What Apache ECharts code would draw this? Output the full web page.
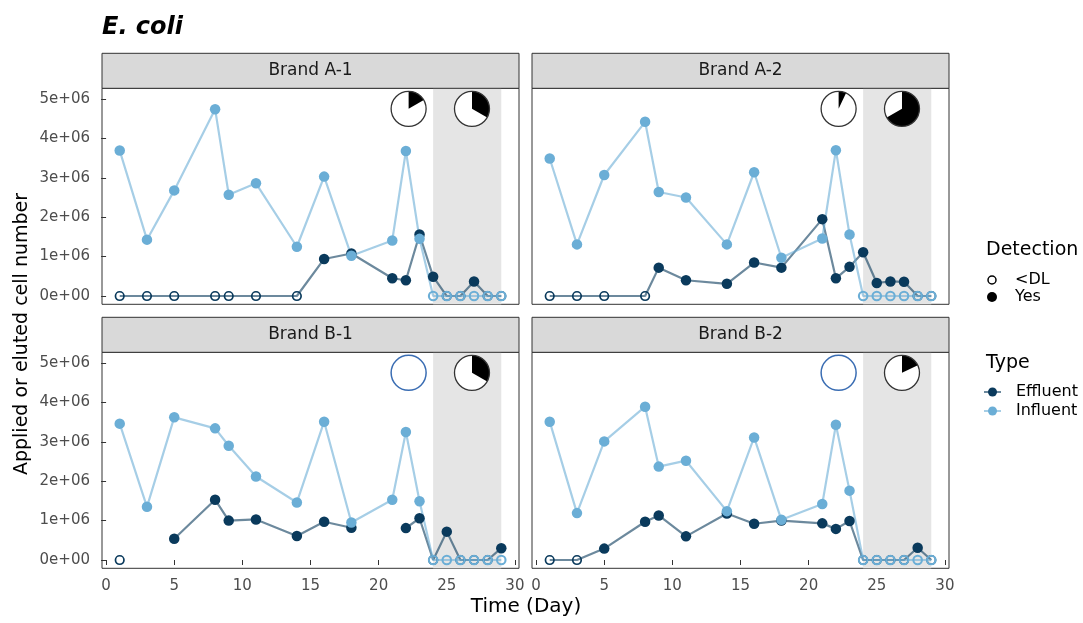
<!DOCTYPE html>
<html>
<head>
<meta charset="utf-8">
<script src="https://cdn.jsdelivr.net/npm/echarts@6/dist/echarts.min.js"></script>
<style>
html,body{margin:0;padding:0;background:#fff;}
#chart{width:1083px;height:623px;}
</style>
</head>
<body>
<div id="chart"></div>
<script>
// ---------------- data ----------------
const days = [1, 3, 5, 8, 9, 11, 14, 16, 18, 21, 22, 23, 24, 25, 26, 27, 28, 29];
const panelNames = ['Brand A-1', 'Brand A-2', 'Brand B-1', 'Brand B-2'];
// values in units of 1e6 cells; null = missing; 0 = below detection limit (<DL)
const effA1 = [0, 0, 0, 0, 0, 0, 0, 0.94, 1.08, 0.45, 0.40, 1.56, 0.49, 0, 0, 0.37, 0, 0];
const infA1 = [3.69, 1.43, 2.68, 4.74, 2.57, 2.86, 1.25, 3.03, 1.02, 1.41, 3.68, 1.45, 0, 0, 0, 0, 0, 0];
const effA2 = [0, 0, 0, 0, 0.72, 0.40, 0.31, 0.85, 0.72, 1.95, 0.45, 0.74, 1.11, 0.33, 0.37, 0.36, 0, 0];
const infA2 = [3.49, 1.31, 3.07, 4.42, 2.64, 2.50, 1.31, 3.14, 0.97, 1.46, 3.70, 1.56, 0, 0, 0, 0, 0, 0];
const effB1 = [0, null, 0.54, 1.53, 1.00, 1.03, 0.61, 0.97, 0.82, null, 0.81, 1.06, 0, 0.72, 0, 0, 0, 0.30];
const infB1 = [3.46, 1.35, 3.62, 3.34, 2.90, 2.12, 1.46, 3.51, 0.95, 1.53, 3.25, 1.49, 0, 0, 0, 0, 0, 0];
const effB2 = [0, 0, 0.29, 0.97, 1.13, 0.60, 1.18, 0.92, 1.00, 0.93, 0.79, 0.99, 0, 0, 0, 0, 0.31, 0];
const infB2 = [3.51, 1.19, 3.01, 3.89, 2.37, 2.52, 1.24, 3.11, 1.02, 1.42, 3.43, 1.76, 0, 0, 0, 0, 0, 0];
const effluent = [effA1, effA2, effB1, effB2];
const influent = [infA1, infA2, infB1, infB2];
// pie glyphs: fraction of detected samples
const pieX = [22.2, 26.85];
const pieY = 4.75;
const pieFrac = [[0.167, 0.333], [0.07, 0.667], [0, 0.333], [0, 0.18]];
const bandRange = [24, 29];
const xTicks = [0, 5, 10, 15, 20, 25, 30];
const yTicks = [0, 1, 2, 3, 4, 5];
const yTickLabels = ['0e+00', '1e+06', '2e+06', '3e+06', '4e+06', '5e+06'];

// ---------------- style / layout ----------------
const FONT = 'DejaVu Sans';
const colEff = '#0a3a5c';
const colInf = '#6baed6';
const lineEff = 'rgba(10,58,92,0.6)';
const lineInf = 'rgba(107,174,214,0.6)';
const lefts = [102, 532, 102, 532];
const tops = [88.3, 88.3, 352.3, 352.3];
const W = 417, H = 216, STRIP = 35;

const grids = [], xAxes = [], yAxes = [], series = [], graphics = [];
for (let i = 0; i < 4; i++) {
  const isBottom = i >= 2, isLeft = i % 2 === 0;
  grids.push({left: lefts[i], top: tops[i], width: W, height: H, show: true,
    borderColor: '#333', borderWidth: 1, backgroundColor: 'transparent', containLabel: false});
  xAxes.push({type: 'value', gridIndex: i, min: -0.3, max: 30.3,
    axisLine: {show: false}, splitLine: {show: false},
    axisTick: {show: isBottom, length: 5, lineStyle: {color: '#333'}, customValues: xTicks},
    axisLabel: {show: isBottom, customValues: xTicks, margin: 10, fontSize: 15, fontFamily: FONT, color: '#4d4d4d'}});
  yAxes.push({type: 'value', gridIndex: i, min: -0.21, max: 5.27,
    axisLine: {show: false}, splitLine: {show: false},
    axisTick: {show: isLeft, length: 5, lineStyle: {color: '#333'}, customValues: yTicks},
    axisLabel: {show: isLeft, customValues: yTicks, margin: 12, fontSize: 15, fontFamily: FONT, color: '#4d4d4d',
      formatter: v => yTickLabels[yTicks.indexOf(Math.round(v))]}});

  // shaded band
  series.push({type: 'custom', xAxisIndex: i, yAxisIndex: i, z: 1, silent: true,
    data: [[bandRange[0], bandRange[1]]], encode: {x: [0, 1]},
    renderItem: (params, api) => {
      const cs = params.coordSys;
      const x0 = api.coord([api.value(0), 0])[0];
      const x1 = api.coord([api.value(1), 0])[0];
      return {type: 'rect', shape: {x: x0, y: cs.y, width: x1 - x0, height: cs.height}, style: {fill: '#e5e5e5'}};
    }});
  // lines
  const mkLine = (vals, col, z) => ({type: 'line', xAxisIndex: i, yAxisIndex: i, z: z, silent: true,
    showSymbol: false, connectNulls: false, lineStyle: {color: col, width: 2.2, opacity: 1},
    data: days.map((d, k) => [d, vals[k] === null ? '-' : vals[k]])});
  series.push(mkLine(effluent[i], lineEff, 2));
  series.push(mkLine(influent[i], lineInf, 3));
  // points
  const mkPts = (vals, col, z, ring) => ({type: 'scatter', xAxisIndex: i, yAxisIndex: i, z: z, silent: true,
    itemStyle: {opacity: 1},
    data: days.map((d, k) => ({d: d, v: vals[k]})).filter(o => o.v !== null).map(o => (
      o.v === 0
        ? {value: [o.d, o.v], symbolSize: 8.5, itemStyle: {color: 'rgba(0,0,0,0)', borderColor: col, borderWidth: ring, opacity: 1}}
        : {value: [o.d, o.v], symbolSize: 10.5, itemStyle: {color: col, opacity: 1}}))});
  series.push(mkPts(effluent[i], colEff, 4, 1.7));
  series.push(mkPts(influent[i], colInf, 5, 2.1));
  // pies
  series.push({type: 'custom', xAxisIndex: i, yAxisIndex: i, z: 6, silent: true,
    data: pieX.map((x, k) => [x, pieY, pieFrac[i][k]]),
    renderItem: (params, api) => {
      const p = api.coord([api.value(0), api.value(1)]);
      const f = api.value(2);
      const r = 17.5;
      const ch = [{type: 'circle', shape: {cx: p[0], cy: p[1], r: r}, style: {fill: '#fff'}}];
      if (f > 0) {
        ch.push({type: 'sector', shape: {cx: p[0], cy: p[1], r: r, r0: 0,
          startAngle: -Math.PI / 2, endAngle: -Math.PI / 2 + 2 * Math.PI * f, clockwise: true},
          style: {fill: '#000'}});
      }
      ch.push({type: 'circle', shape: {cx: p[0], cy: p[1], r: r},
        style: {fill: 'none', stroke: f > 0 ? '#333' : '#3a6db3', lineWidth: f > 0 ? 1.3 : 1.5}});
      return {type: 'group', children: ch};
    }});

  // strip
  graphics.push({type: 'rect', shape: {x: lefts[i], y: tops[i] - STRIP, width: W, height: STRIP},
    style: {fill: '#d9d9d9', stroke: '#333', lineWidth: 1}, z: 10});
  graphics.push({type: 'text', x: lefts[i] + W / 2, y: tops[i] - STRIP / 2, z: 11,
    style: {text: panelNames[i], font: '17px "' + FONT + '"', fill: '#1a1a1a', textAlign: 'center', textVerticalAlign: 'middle'}});
}

// titles
graphics.push({type: 'text', x: 102, y: 28, style: {text: 'E. coli', font: 'italic bold 24px "' + FONT + '"', fill: '#000', textAlign: 'left', textVerticalAlign: 'middle'}});
graphics.push({type: 'text', x: 526, y: 607, style: {text: 'Time (Day)', font: '20px "' + FONT + '"', fill: '#000', textAlign: 'center', textVerticalAlign: 'middle'}});
graphics.push({type: 'text', x: 22, y: 334, rotation: Math.PI / 2, style: {text: 'Applied or eluted cell number', font: '19px "' + FONT + '"', fill: '#000', textAlign: 'center', textVerticalAlign: 'middle'}});

// legend
const legTxt = (t, x, y, size) => ({type: 'text', x: x, y: y, style: {text: t, font: size + 'px "' + FONT + '"', fill: '#000', textAlign: 'left', textVerticalAlign: 'middle'}});
graphics.push(legTxt('Detection', 986, 250, 19));
graphics.push({type: 'circle', shape: {cx: 992, cy: 280, r: 4}, style: {fill: 'none', stroke: '#000', lineWidth: 1.5}});
graphics.push(legTxt('<DL', 1015, 280, 16));
graphics.push({type: 'circle', shape: {cx: 992, cy: 297, r: 5}, style: {fill: '#000'}});
graphics.push(legTxt('Yes', 1015, 297, 16));
graphics.push(legTxt('Type', 986, 363, 19));
graphics.push({type: 'line', shape: {x1: 984, y1: 392, x2: 1001, y2: 392}, style: {stroke: lineEff, lineWidth: 2}});
graphics.push({type: 'circle', shape: {cx: 992.5, cy: 392, r: 4.5}, style: {fill: colEff}});
graphics.push(legTxt('Effluent', 1016, 392, 16));
graphics.push({type: 'line', shape: {x1: 984, y1: 411, x2: 1001, y2: 411}, style: {stroke: lineInf, lineWidth: 2}});
graphics.push({type: 'circle', shape: {cx: 992.5, cy: 411, r: 4.5}, style: {fill: colInf}});
graphics.push(legTxt('Influent', 1016, 411, 16));

const chart = echarts.init(document.getElementById('chart'));
chart.setOption({
  animation: false,
  backgroundColor: '#fff',
  grid: grids, xAxis: xAxes, yAxis: yAxes, series: series,
  graphic: {elements: graphics}
});
</script>
</body>
</html>
